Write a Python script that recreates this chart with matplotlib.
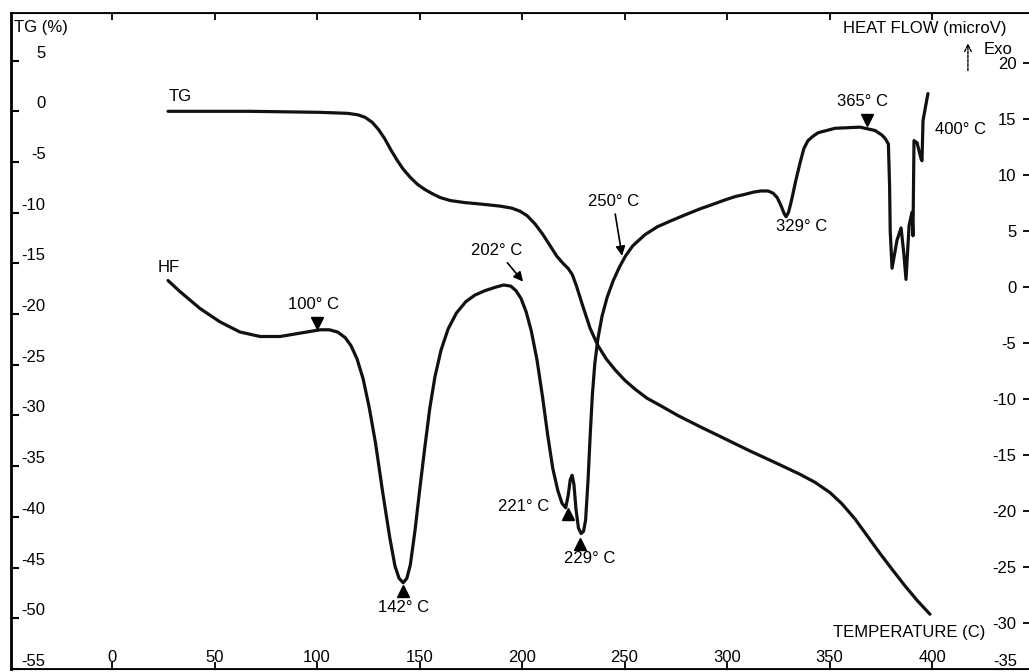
import numpy as np
import matplotlib.pyplot as plt

plt.rcParams['font.family'] = ['Liberation Sans', 'DejaVu Sans']
plt.rcParams['font.size'] = 12
plt.rcParams['axes.unicode_minus'] = False

# TG curve (temperature in C, mass change in %)
tg_temp = [27.3, 67.3, 101.5, 115.0, 120.0, 123.5, 127.0, 130.0, 133.0, 136.0,
           139.0, 142.0, 145.4, 149.0, 152.5, 156.0, 160.0, 165.0, 172.0, 180.0,
           189.3, 195.0, 199.0, 202.5, 206.3, 210.0, 213.5, 217.0, 220.0, 222.5,
           224.5, 226.5, 229.3, 233.2, 237.0, 241.0, 245.4, 250.0, 255.1, 261.0,
           267.3, 276.0, 286.8, 298.0, 311.2, 323.0, 335.6, 343.0, 350.2, 356.0,
           362.4, 368.5, 374.6, 381.0, 386.8, 393.0, 399.0]
tg_val = [0.0, 0.0, -0.1, -0.2, -0.35, -0.6, -1.1, -1.8, -2.7, -3.8,
          -4.8, -5.7, -6.5, -7.2, -7.7, -8.1, -8.5, -8.8, -9.0, -9.15,
          -9.35, -9.55, -9.85, -10.3, -11.1, -12.1, -13.2, -14.3, -15.0, -15.5,
          -16.1, -17.2, -19.0, -21.4, -23.1, -24.4, -25.5, -26.5, -27.4, -28.3,
          -29.0, -30.0, -31.1, -32.2, -33.5, -34.6, -35.8, -36.6, -37.6, -38.7,
          -40.2, -41.9, -43.6, -45.3, -46.8, -48.3, -49.6]

# heat flow curve (temperature in C, microV)
hf_temp = [27.3, 33.2, 42.9, 52.7, 62.4, 72.2, 82.0, 91.7, 101.5, 106.0,
           110.0, 113.7, 116.5, 119.5, 122.5, 125.5, 128.5, 132.0, 135.5, 138.0,
           140.0, 142.0, 143.8, 145.5, 147.8, 150.0, 152.5, 155.0, 157.5, 160.5,
           164.0, 168.0, 172.5, 177.0, 182.0, 187.0, 191.0, 194.5, 197.0, 199.5,
           202.0, 204.5, 207.3, 210.0, 212.5, 215.0, 217.5, 219.5, 221.3, 222.5,
           223.5, 224.4, 225.3, 226.3, 227.5, 228.8, 230.0, 231.0, 232.2, 233.3,
           234.3, 235.5, 237.0, 239.0, 241.5, 244.5, 247.5, 250.5, 254.0, 260.0,
           266.0, 272.2, 280.0, 286.8, 293.0, 299.0, 304.0, 308.8, 313.0, 316.5,
           320.0, 322.5, 324.5, 326.3, 327.8, 328.8, 330.0, 331.5, 333.5, 335.6,
           337.5, 339.5, 342.0, 344.4, 352.7, 364.9, 372.2, 375.5, 377.1, 378.7,
           379.3, 379.6, 380.5, 382.9, 384.9, 386.3, 387.3, 388.8, 390.2, 390.7,
           391.2, 392.7, 394.6, 395.1, 395.6, 398.0]
hf_val = [0.6, -0.4, -1.9, -3.1, -4.0, -4.4, -4.4, -4.1, -3.8, -3.8,
          -4.0, -4.5, -5.2, -6.4, -8.2, -10.8, -13.9, -18.3, -22.4, -24.9,
          -26.0, -26.4, -26.0, -24.8, -21.7, -18.2, -14.4, -10.8, -8.0, -5.6,
          -3.7, -2.3, -1.3, -0.7, -0.3, 0.0, 0.2, 0.1, -0.3, -1.0,
          -2.2, -3.9, -6.5, -9.8, -13.2, -16.2, -18.2, -19.3, -19.7, -18.6,
          -17.2, -16.8, -17.6, -19.8, -21.5, -22.0, -21.8, -20.8, -17.2, -13.0,
          -9.6, -6.8, -4.6, -2.6, -0.9, 0.6, 1.8, 2.8, 3.7, 4.7,
          5.4, 5.9, 6.5, 7.0, 7.4, 7.8, 8.1, 8.3, 8.5, 8.6,
          8.6, 8.4, 8.0, 7.3, 6.6, 6.3, 6.7, 7.8, 9.5, 11.1,
          12.4, 13.1, 13.5, 13.8, 14.2, 14.3, 14.0, 13.6, 13.3, 12.8,
          9.0, 5.0, 1.7, 4.2, 5.3, 2.9, 0.7, 5.5, 6.7, 4.6,
          13.1, 12.9, 11.5, 11.3, 14.9, 17.3]

x_ticks = [0, 50, 100, 150, 200, 250, 300, 350, 400]
tg_ticks = [5, 0, -5, -10, -15, -20, -25, -30, -35, -40, -45, -50, -55]
hf_ticks = [20, 15, 10, 5, 0, -5, -10, -15, -20, -25, -30]

fig = plt.figure(figsize=(10.29, 6.72), dpi=100)
ax = fig.add_axes([0.0107, 0.0045, 0.9893, 0.9762])
ax.set_xlim(-49.3, 447.3)
ax.set_ylim(-55, 9.7)
ax2 = ax.twinx()
ax2.set_ylim(-34.1, 24.5)

ax.plot(tg_temp, tg_val, color='#111111', lw=2.3, solid_capstyle='round', solid_joinstyle='round')
ax2.plot(hf_temp, hf_val, color='#111111', lw=2.3, solid_capstyle='round', solid_joinstyle='round')

# axes styling
for a in (ax, ax2):
    a.spines['right'].set_visible(False)
ax.spines['left'].set_linewidth(2.0)
ax.spines['top'].set_linewidth(1.3)
ax.spines['bottom'].set_linewidth(1.3)

ax.set_xticks(x_ticks)
ax.tick_params(axis='x', direction='in', length=5, width=1.3, pad=-14,
               top=True, labeltop=False)
ax.set_yticks(tg_ticks)
ax.tick_params(axis='y', direction='in', length=6, width=1.5, pad=-25)
plt.setp(ax.get_yticklabels(), ha='right', va='bottom')

ax2.set_yticks(hf_ticks)
ax2.tick_params(axis='y', direction='in', length=4, width=1.3, pad=-9)
plt.setp(ax2.get_yticklabels(), ha='right')
ax2.text(0.988, 0.012, '-35', transform=ax2.transAxes, ha='right', va='center')

# titles / axis names
ax.text(0.003, 0.99, 'TG (%)', transform=ax.transAxes, ha='left', va='top')
ax.text(0.978, 0.9756, 'HEAT FLOW (microV)', transform=ax.transAxes, ha='right', va='center')
ax.text(0.955, 0.9436, 'Exo', transform=ax.transAxes, ha='left', va='center')
ax.annotate('', xy=(0.940, 0.958), xytext=(0.940, 0.908), xycoords='axes fraction',
            arrowprops=dict(arrowstyle='->', lw=1.0, color='k', linestyle=(0, (2, 1))))
ax.text(0.957, 0.055, 'TEMPERATURE (C)', transform=ax.transAxes, ha='right', va='center')

# curve labels
ax.text(33.2, 1.5, 'TG', ha='center', va='center')
ax2.text(27.8, 1.8, 'HF', ha='center', va='center')

# peak markers
ax2.plot(100, -3.2, marker='v', color='k', ms=8, ls='none')
ax2.text(98.5, -1.5, '100° C', ha='center', va='center')
ax2.plot(142, -27.1, marker='^', color='k', ms=8, ls='none')
ax2.text(142, -28.6, '142° C', ha='center', va='center')
ax2.plot(222.4, -20.3, marker='^', color='k', ms=8, ls='none')
ax2.text(213.5, -19.6, '221° C', ha='right', va='center')
ax2.plot(228.3, -22.9, marker='^', color='k', ms=8, ls='none')
ax2.text(233.2, -24.2, '229° C', ha='center', va='center')
ax2.plot(368.3, 14.9, marker='v', color='k', ms=8, ls='none')
ax2.text(365.9, 16.6, '365° C', ha='center', va='center')
ax2.text(336.6, 5.4, '329° C', ha='center', va='center')
ax2.text(413.7, 14.1, '400° C', ha='center', va='center')

ax2.annotate('202° C', xy=(200.5, 0.5), xytext=(187.8, 3.3), ha='center', va='center',
             arrowprops=dict(arrowstyle='-|>', lw=1.2, color='k', mutation_scale=14,
                             shrinkA=2, shrinkB=0))
ax2.annotate('250° C', xy=(248.8, 2.8), xytext=(244.4, 7.7), ha='center', va='center',
             arrowprops=dict(arrowstyle='-|>', lw=1.2, color='k', mutation_scale=14,
                             shrinkA=2, shrinkB=0))

fig.savefig('out.png', dpi=100)
